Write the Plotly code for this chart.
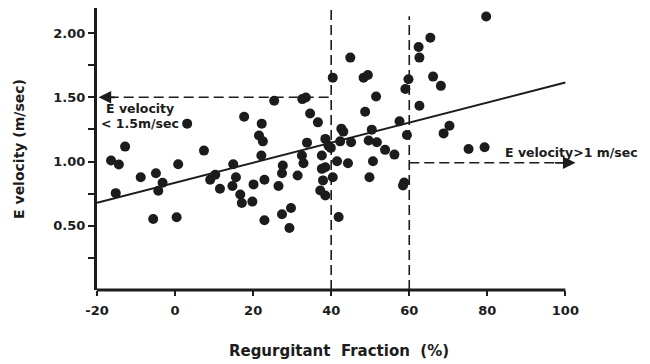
import plotly.graph_objects as go

# Regurgitant fraction (%) and E velocity (m/sec)
rf = [3.1, 17.7, 22.2, -12.8, -16.4, -14.4, 7.4, -8.8, -4.9, -3.2,
      -4.3, -15.2, 0.8, -5.6, 0.4, 14.9, 10.3, 9.0, 11.5, 15.6,
      14.7, 16.7, 17.1, 19.8, 20.1, 21.5, 22.5, 22.1, 44.9, 40.4,
      48.3, 49.4, 51.5, 48.7, 32.6, 33.5, 25.4, 34.6, 36.6, 42.6,
      50.4, 57.5, 59.0, 59.8, 33.8, 38.5, 39.3, 39.9, 42.3, 45.1,
      49.6, 51.7, 53.8, 56.2, 32.5, 32.9, 37.6, 27.6, 27.4, 31.4,
      37.6, 38.5, 41.5, 44.3, 50.7, 49.8, 37.9, 40.4, 37.2, 38.5,
      22.9, 26.5, 29.7, 27.4, 22.9, 29.3, 41.9, 58.4, 58.7, 79.7,
      65.4, 62.4, 62.6, 66.1, 68.1, 62.6, 70.3, 68.8, 59.4, 75.2,
      79.3, 43.1]
ev = [1.295, 1.349, 1.295, 1.116, 1.008, 0.977, 1.085, 0.878, 0.909, 0.835,
      0.773, 0.754, 0.979, 0.553, 0.566, 0.979, 0.897, 0.858, 0.788, 0.878,
      0.809, 0.744, 0.677, 0.688, 0.822, 1.202, 1.157, 1.047, 1.809, 1.653,
      1.653, 1.674, 1.506, 1.388, 1.486, 1.498, 1.473, 1.374, 1.305, 1.256,
      1.248, 1.314, 1.564, 1.641, 1.147, 1.176, 1.124, 1.106, 1.157, 1.150,
      1.163, 1.150, 1.091, 1.054, 1.047, 0.987, 1.047, 0.969, 0.909, 0.891,
      0.943, 0.956, 1.002, 0.987, 1.002, 0.878, 0.853, 0.878, 0.775, 0.736,
      0.858, 0.809, 0.638, 0.589, 0.543, 0.483, 0.568, 0.814, 0.837, 2.129,
      1.964, 1.891, 1.809, 1.661, 1.589, 1.434, 1.279, 1.219, 1.207, 1.098,
      1.111, 1.233]

# regression line end points
fit_x = [-20, 100]
fit_y = [0.678, 1.615]

# cut-off values
rf_cut1 = 40
rf_cut2 = 60
ev_cut1 = 1.5
ev_cut2 = 0.99

x_ticks = [-20, 0, 20, 40, 60, 80, 100]
y_ticks = [0.25, 0.5, 0.75, 1.0, 1.25, 1.5, 1.75, 2.0]
y_ticktext = ["", "0.50", "", "1.00", "", "1.50", "", "2.00"]

INK = "#1c1c1c"
FONT = "DejaVu Sans"

fig = go.Figure()
fig.add_trace(go.Scatter(x=fit_x, y=fit_y, mode="lines",
                         line=dict(color=INK, width=2), hoverinfo="skip",
                         showlegend=False))
fig.add_trace(go.Scatter(x=rf, y=ev, mode="markers",
                         marker=dict(color=INK, size=10, line=dict(width=0)),
                         showlegend=False))

dash = "10px,5px"
shapes = [
    # x axis line
    dict(type="line", xref="x", yref="paper", x0=-20, x1=100, y0=0, y1=0,
         line=dict(color=INK, width=3)),
    # vertical cut-offs
    dict(type="line", xref="x", yref="y", x0=rf_cut1, x1=rf_cut1, y0=0, y1=2.19,
         line=dict(color=INK, width=1.6, dash=dash)),
    dict(type="line", xref="x", yref="y", x0=rf_cut2, x1=rf_cut2, y0=0, y1=2.13,
         line=dict(color=INK, width=1.6, dash=dash)),
    # horizontal cut-offs
    dict(type="line", xref="x", yref="y", x0=-17, x1=rf_cut1, y0=ev_cut1, y1=ev_cut1,
         line=dict(color=INK, width=1.6, dash=dash)),
    dict(type="line", xref="x", yref="y", x0=rf_cut2, x1=98, y0=ev_cut2, y1=ev_cut2,
         line=dict(color=INK, width=1.6, dash=dash)),
]

annotations = [
    dict(x=-19.6, y=ev_cut1, ax=-15, ay=ev_cut1, xref="x", yref="y",
         axref="x", ayref="y", text="", showarrow=True, arrowhead=2,
         arrowsize=1.4, arrowwidth=1.8, arrowcolor=INK),
    dict(x=102.6, y=ev_cut2, ax=97, ay=ev_cut2, xref="x", yref="y",
         axref="x", ayref="y", text="", showarrow=True, arrowhead=2,
         arrowsize=1.4, arrowwidth=1.8, arrowcolor=INK),
    dict(x=-18.2, y=1.41, xref="x", yref="y", text="E velocity",
         showarrow=False, xanchor="left", yanchor="middle",
         font=dict(family=FONT, size=12.5, color=INK, weight="bold")),
    dict(x=-19.4, y=1.295, xref="x", yref="y", text="&lt; 1.5m/sec",
         showarrow=False, xanchor="left", yanchor="middle",
         font=dict(family=FONT, size=12.5, color=INK, weight="bold")),
    dict(x=84.0, y=1.07, xref="x", yref="y", text="E velocity&gt;1 m/sec",
         showarrow=False, xanchor="left", yanchor="middle",
         font=dict(family=FONT, size=12.5, color=INK, weight="bold")),
]

# the page body adds an 8px offset, so the figure is sized 8px smaller
fig.update_layout(
    width=642, height=356,
    margin=dict(l=89, r=69, t=0, b=74, autoexpand=False),
    paper_bgcolor="white", plot_bgcolor="white",
    font=dict(family=FONT, size=13, color=INK, weight="bold"),
    shapes=shapes, annotations=annotations,
    xaxis=dict(range=[-20, 104], showline=False, showgrid=False, zeroline=False,
               automargin=False,
               tickmode="array", tickvals=x_ticks,
               ticktext=[str(v) for v in x_ticks],
               ticks="outside", ticklen=5, tickwidth=2, tickcolor=INK,
               ticklabelstandoff=3,
               tickfont=dict(family=FONT, size=13, color=INK, weight="bold"),
               title=dict(text="Regurgitant\u00a0\u00a0Fraction\u00a0\u00a0(%)",
                          font=dict(family=FONT, size=15, color=INK, weight="bold"),
                          standoff=28)),
    yaxis=dict(range=[0, 2.195], showline=True, linewidth=3, linecolor=INK,
               showgrid=False, zeroline=False, automargin=False,
               tickmode="array", tickvals=y_ticks, ticktext=y_ticktext,
               ticks="outside", ticklen=6, tickwidth=2, tickcolor=INK,
               tickfont=dict(family=FONT, size=13, color=INK, weight="bold"),
               title=dict(text="E velocity (m/sec)",
                          font=dict(family=FONT, size=14, color=INK, weight="bold"),
                          standoff=26)),
)

fig.write_html("out.html")
